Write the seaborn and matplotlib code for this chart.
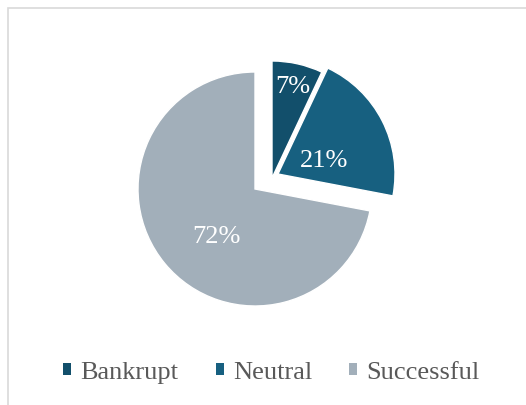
import matplotlib
matplotlib.use("Agg")
import matplotlib.pyplot as plt
import seaborn as sns
import numpy as np
from matplotlib.patches import Rectangle, Patch

# data
categories = ["Bankrupt", "Neutral", "Successful"]
shares = [7, 21, 72]
colors = ["#124f6b", "#176080", "#a2afba"]

# styling (pixel units, figure is 526x405 at dpi 100)
center = (255, 216)
radius = 117
shift = [(17, 11), (23, 15), (0, 0)]      # how far each slice is pulled out
label_dist = [0.82, 0.42, 0.51]           # label distance from slice tip, in radii
label_turn = [0, -8, 10]                  # label angle tweak vs. slice middle, deg

sns.set_style("white")
plt.rcParams["font.family"] = ["Liberation Serif", "DejaVu Serif"]

fig = plt.figure(figsize=(5.26, 4.05), dpi=100)
ax = fig.add_axes([0, 0, 1, 1])

wedges, texts, autotexts = ax.pie(
    shares, colors=sns.color_palette(colors), startangle=90, counterclock=False,
    center=center, radius=radius, autopct="%1.0f%%",
    wedgeprops=dict(edgecolor="white", linewidth=1),
    textprops=dict(color="white", fontsize=19),
)

for w, t, (dx, dy), d, turn in zip(wedges, autotexts, shift, label_dist, label_turn):
    cx, cy = center[0] + dx, center[1] + dy
    w.set_center((cx, cy))
    ang = np.deg2rad((w.theta1 + w.theta2) / 2 + turn)
    t.set_position((cx + d * radius * np.cos(ang), cy + d * radius * np.sin(ang)))
    t.set_ha("center")
    t.set_va("center_baseline")

ax.set_xlim(0, 526)
ax.set_ylim(0, 405)
ax.set_axis_off()

handles = [Patch(facecolor=c, edgecolor="none") for c in colors]
fig.legend(handles, categories, loc="center", bbox_to_anchor=(0.516, 0.08),
           ncol=3, frameon=False, fontsize=19, handlelength=0.3,
           handleheight=0.3, handletextpad=0.35, columnspacing=1.4,
           labelcolor="#595959")

# chart border
fig.patches.append(Rectangle((8 / 526, -0.1), 1.2, 1.1 - 8 / 405,
                             transform=fig.transFigure, fill=False,
                             edgecolor="#d9d9d9", linewidth=1.2))

fig.savefig("out.png", dpi=100)
